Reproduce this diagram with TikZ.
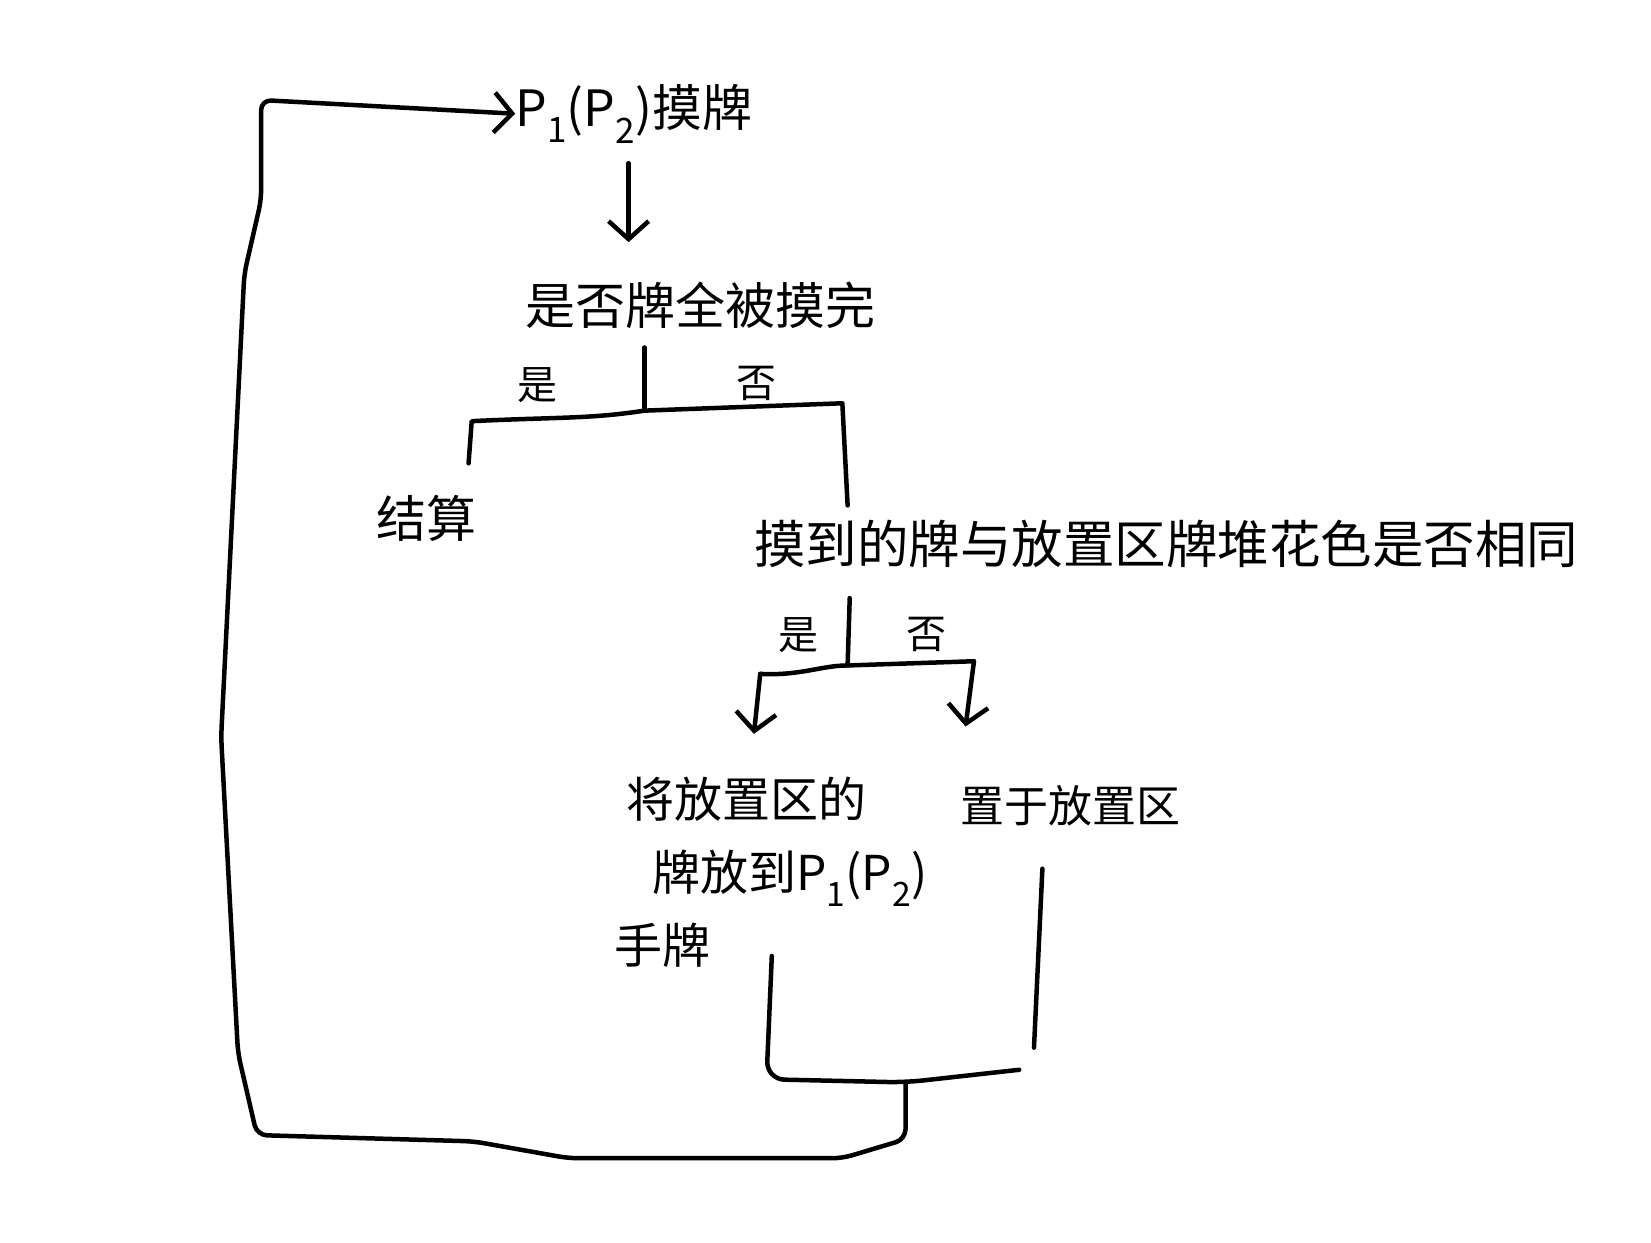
\documentclass[tikz,border=0pt]{standalone}
\usepackage{fontspec}
\setmainfont{Noto Sans CJK SC}
\usetikzlibrary{arrows.meta}
\tikzset{
  lbl/.style={font=\fontsize{50}{60}\selectfont, inner sep=0pt},
  yn/.style={font=\fontsize{40}{48}\selectfont, inner sep=0pt},
  ln/.style={line width=4.5pt, line cap=round, line join=round},
  arr/.style={ln, -{Straight Barb[length=18pt,width=40pt,line width=4.5pt]}},
}
\begin{document}
\begin{tikzpicture}[x=1.053pt,y=-1.053pt]
\useasboundingbox (0,0) rectangle (1568,1180);
\fill[white] (0,0) rectangle (1568,1180);

% nodes
\node[lbl] (draw) at (602,108) {P\textsubscript{1}(P\textsubscript{2})摸牌};
\node[lbl] (q1) at (665,290) {是否牌全被摸完};
\node[yn] (yes1) at (510,366) {是};
\node[yn] (no1) at (718,364) {否};
\node[lbl] (settle) at (405,492) {结算};
\node[lbl, anchor=west, font=\fontsize{51.5}{60}\selectfont] (q2) at (716,517) {摸到的牌与放置区牌堆花色是否相同};
\node[yn] (yes2) at (758,603) {是};
\node[yn] (no2) at (880,603) {否};
\node[lbl, anchor=north west, align=left, font=\fontsize{48}{73}\selectfont] (act1) at (583,738)
  {\hspace*{12pt}将放置区的\\\hspace*{38pt}牌放到P\textsubscript{1}(P\textsubscript{2})\\手牌};
\node[lbl, font=\fontsize{44}{52}\selectfont] (act2) at (1017,765) {置于放置区};

% coordinates
\coordinate (a1) at (597,155);
\coordinate (a2) at (597,230);
\coordinate (j1) at (612,330);
\coordinate (j1b) at (612,390);
\coordinate (L1) at (448,400);
\coordinate (L1b) at (445,440);
\coordinate (R1) at (800,383);
\coordinate (R1b) at (805,480);
\coordinate (j2) at (807,568);
\coordinate (j2b) at (805,632);
\coordinate (L2) at (722,640);
\coordinate (L2b) at (716,697);
\coordinate (R2) at (925,628);
\coordinate (R2b) at (917,690);
\coordinate (m1) at (733,908);
\coordinate (m2) at (990,825);
\coordinate (m2b) at (982,995);
\coordinate (mj) at (860,1028);
\coordinate (mr) at (968,1016);

% connectors
\draw[arr] (a1) -- (a2);
\draw[ln] (j1) -- (j1b);
\draw[ln] (L1b) -- (L1) .. controls (530,396) and (560,398) .. (j1b) -- (R1) -- (R1b);
\draw[ln] (j2) -- (j2b);
\draw[ln] (L2) .. controls (760,642) and (780,632) .. (j2b) -- (R2);
\draw[arr] (L2) -- (L2b);
\draw[arr] (R2) -- (R2b);
\draw[ln] (m2) -- (m2b);
\draw[ln, rounded corners=18pt] (m1) -- (728,1025) -- (mj) -- (mr);
\draw[arr, rounded corners=10pt] (mj) -- (860,1082) -- (800,1100) -- (540,1100) -- (450,1084) -- (244,1078)
  -- (226,1000) -- (210,700) -- (232,260) -- (248,190) -- (248,95) -- (draw.west);
\end{tikzpicture}
\end{document}
